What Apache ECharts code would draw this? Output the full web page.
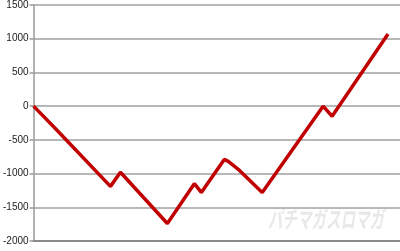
<!DOCTYPE html>
<html><head><meta charset="utf-8">
<script src="https://cdn.jsdelivr.net/npm/echarts@6/dist/echarts.min.js"></script>
<style>html,body{margin:0;padding:0;background:#fff}#c{width:400px;height:251px}</style>
</head><body><div id="c"></div>
<script>
var xs = [0, 23, 25, 77, 87, 134, 161, 168, 191, 195, 206, 208, 229, 290, 299, 355];
var values = [0, -350, -330, -1190, -980, -1740, -1150, -1280, -790, -820, -950, -940, -1280, 0, -150, 1070];
var yTicks = [-2000, -1500, -1000, -500, 0, 500, 1000, 1500];
var data = xs.map(function (x, i) { return [x, values[i]]; });
var chart = echarts.init(document.getElementById('c'));
chart.setOption({
  animation: false,
  grid: { left: 33, right: 0, top: 5, bottom: 10 },
  xAxis: { type: 'value', min: 0, max: 367, axisLabel: { show: false }, axisTick: { show: false },
    splitLine: { show: false }, axisLine: { show: true, onZero: false, lineStyle: { color: '#8a8a8a', width: 2 } } },
  yAxis: { type: 'value', min: yTicks[0], max: yTicks[yTicks.length - 1], interval: 500,
    axisLine: { show: true, lineStyle: { color: '#999', width: 1.5 } },
    axisTick: { show: true, length: 4, lineStyle: { color: '#999', width: 1.5 } },
    axisLabel: { color: '#222', fontSize: 10, fontFamily: 'Liberation Sans, Arial', margin: 5,
      formatter: function (v) { return String(v); } },
    splitLine: { lineStyle: { color: '#a0a0a0', width: 1.5 } } },
  graphic: [{ type: 'text', x: 268, y: 208, scaleY: 1.6, z: -1,
    style: { text: 'パチマガスロマガ', fill: '#e8e8e8', font: 'italic bold 14.5px "Noto Sans CJK JP"', textVerticalAlign: 'top' } }],
  series: [{ type: 'line', data: data, symbol: 'none', z: 5,
    lineStyle: { color: '#c00000', width: 3.5 } }]
});
</script></body></html>
